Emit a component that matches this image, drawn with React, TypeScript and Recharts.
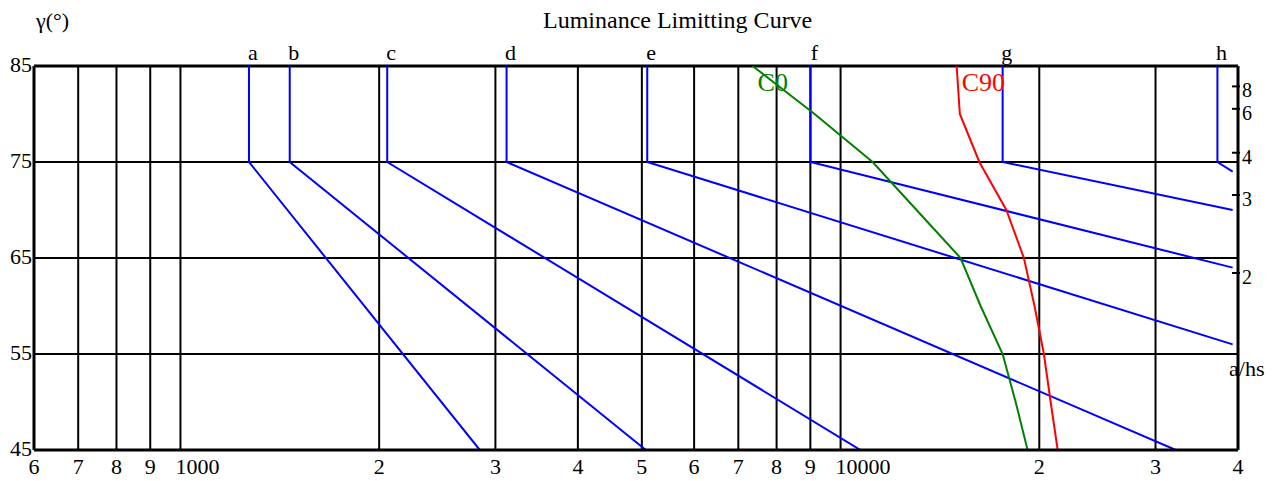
import { LineChart, Line, XAxis, YAxis, CartesianGrid, ReferenceLine } from 'recharts'

// luminance axis (log), bottom tick labels as printed
const xTicks = [600, 700, 800, 900, 1000, 2000, 3000, 4000, 5000, 6000, 7000, 8000, 9000, 10000, 20000, 30000, 40000]
const xTickLabels = ['6', '7', '8', '9', '1000', '2', '3', '4', '5', '6', '7', '8', '9', '10000', '2', '3', '4']
const yTicks = [45, 55, 65, 75, 85]
// a/hs ratio scale on the right (tan γ = a/hs)
const ratioTicks = [2, 3, 4, 6, 8]

// limiting curves a..h: vertical from 85° to 75°, then a straight run
const limitNames = ['a', 'b', 'c', 'd', 'e', 'f', 'g', 'h']
const limitCornerLum = [1270, 1464, 2057, 3119, 5095, 9005, 17600, 37230]
const limitEndLum = [2841, 5070, 10720, 32200, 39260, 39260, 39260, 39260]
const limitEndGamma = [45, 45, 45, 45, 56, 64, 70, 74]
const limitTopGamma = 85
const limitCornerGamma = 75

// measured luminaire curves
const curveGamma = [85, 80, 75, 70, 65, 60, 55, 50, 45]
const c0Lum = [7357, 9133, 11183, 13036, 15196, 16298, 17600, 18418, 19200]
const c90Lum = [14991, 15160, 16226, 17830, 18955, 19670, 20324, 20810, 21325]

const FONT = '"Liberation Serif", "Times New Roman", serif'

const limitSeries = limitNames.map((name, i) => ({
  name,
  data: [
    { lum: limitCornerLum[i], gamma: limitTopGamma },
    { lum: limitCornerLum[i], gamma: limitCornerGamma },
    { lum: limitEndLum[i], gamma: limitEndGamma[i] },
  ],
}))

const c0Data = curveGamma.map((g, i) => ({ lum: c0Lum[i], gamma: g }))
const c90Data = curveGamma.map((g, i) => ({ lum: c90Lum[i], gamma: g }))

const toGamma = (r: number) => (Math.atan(r) * 180) / Math.PI

const topLetter = (name: string) => (p: any) =>
  p.index === 0 ? (
    <text x={p.x + 4} y={p.y - 6} textAnchor="middle" fontSize={22} fontFamily={FONT} fill="#000">
      {name}
    </text>
  ) : null

const curveTag = (name: string, color: string) => (p: any) =>
  p.index === 0 ? (
    <text x={p.x + 5} y={p.y + 25} textAnchor="start" fontSize={26} fontFamily={FONT} fill={color}>
      {name}
    </text>
  ) : null

const BottomTick = (p: any) => {
  const label = xTickLabels[p.index]
  const wide = label.length > 1
  return (
    <text
      x={wide ? p.x - 5 : p.x}
      y={p.y + 24}
      textAnchor={wide ? 'start' : 'middle'}
      fontSize={22}
      fontFamily={FONT}
      fill="#000"
    >
      {label}
    </text>
  )
}

const LeftTick = (p: any) => (
  <text x={p.x} y={p.y + 6} textAnchor="end" fontSize={22} fontFamily={FONT} fill="#000">
    {p.payload.value}
  </text>
)

const RightTick = (p: any) => (
  <g>
    <line x1={p.x - 6} x2={p.x + 2} y1={p.y} y2={p.y} stroke="#000" strokeWidth={2} />
    <text x={p.x + 4} y={p.y + 11} textAnchor="start" fontSize={20} fontFamily={FONT} fill="#000">
      {ratioTicks[p.index]}
    </text>
  </g>
)

export default function App() {
  return (
    <div style={{ position: 'absolute', left: 0, top: 0, width: 1281, height: 481, fontFamily: FONT, background: '#fff' }}>
      <LineChart width={1281} height={481} margin={{ top: 66, right: 0, bottom: 0, left: 0 }}>
        <CartesianGrid stroke="#000" strokeWidth={2} strokeOpacity={1} />
        <XAxis
          dataKey="lum"
          type="number"
          scale="log"
          domain={[600, 40000]}
          allowDataOverflow
          ticks={xTicks}
          interval={0}
          height={31}
          tickLine={false}
          tickSize={0}
          tickMargin={0}
          axisLine={{ stroke: '#000', strokeWidth: 3 }}
          tick={BottomTick}
        />
        <YAxis
          type="number"
          domain={[45, 85]}
          allowDataOverflow
          ticks={yTicks}
          interval={0}
          width={34}
          tickLine={false}
          tickSize={0}
          tickMargin={2}
          axisLine={{ stroke: '#000', strokeWidth: 3 }}
          tick={LeftTick}
        />
        <YAxis
          yAxisId="ratio"
          orientation="right"
          type="number"
          domain={[45, 85]}
          allowDataOverflow
          ticks={ratioTicks.map(toGamma)}
          interval={0}
          width={43}
          tickLine={false}
          tickSize={0}
          tickMargin={0}
          axisLine={{ stroke: '#000', strokeWidth: 3 }}
          tick={RightTick}
        />
        <ReferenceLine y={85} stroke="#000" strokeWidth={3} />
        {limitSeries.map((s) => (
          <Line
            key={s.name}
            data={s.data}
            dataKey="gamma"
            type="linear"
            stroke="#0000ff"
            strokeWidth={2}
            dot={false}
            activeDot={false}
            isAnimationActive={false}
            label={topLetter(s.name)}
          />
        ))}
        <Line
          data={c0Data}
          dataKey="gamma"
          type="linear"
          stroke="#008000"
          strokeWidth={2}
          dot={false}
          activeDot={false}
          isAnimationActive={false}
          label={curveTag('C0', '#008000')}
        />
        <Line
          data={c90Data}
          dataKey="gamma"
          type="linear"
          stroke="#ff0000"
          strokeWidth={2}
          dot={false}
          activeDot={false}
          isAnimationActive={false}
          label={curveTag('C90', '#ff0000')}
        />
      </LineChart>
      <svg width={1281} height={481} style={{ position: 'absolute', left: 0, top: 0, pointerEvents: 'none' }}>
        <text x={543} y={28} fontSize={24} fontFamily={FONT} fill="#000">
          Luminance Limitting Curve
        </text>
        <text x={36} y={28} fontSize={22} fontFamily={FONT} fill="#000">
          γ(°)
        </text>
        <text x={1229} y={376} fontSize={22} fontFamily={FONT} fill="#000">
          a/hs
        </text>
      </svg>
    </div>
  )
}
